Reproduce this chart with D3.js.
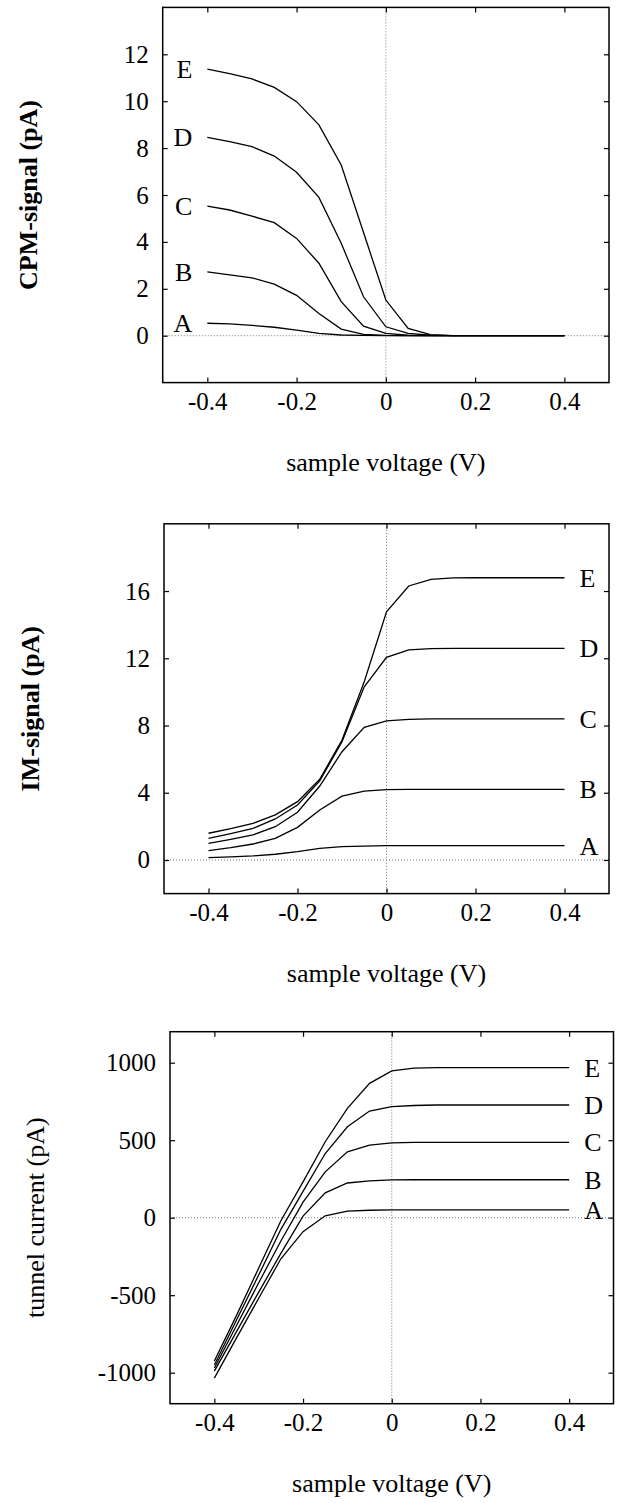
<!DOCTYPE html>
<html>
<head>
<meta charset="utf-8">
<script src="https://cdn.jsdelivr.net/npm/d3@7"></script>
<style>
	body { margin: 0; background: #fff; }
	svg { display: block; font-family: "Liberation Serif", "Times New Roman", serif; }
</style>
</head>
<body>
<script>
// sample voltage (V), same grid for every panel
const voltage = [-0.4, -0.35, -0.3, -0.25, -0.2, -0.15, -0.1, -0.05, 0, 0.05, 0.1, 0.15, 0.2, 0.25, 0.3, 0.35, 0.4];
const xTicks = [-0.4, -0.2, 0, 0.2, 0.4];
const curveNames = ["A", "B", "C", "D", "E"];

// CPM-signal (pA)
const cpmA = [0.53, 0.5, 0.44, 0.36, 0.24, 0.1, 0.03, 0.01, 0, 0, 0, 0, 0, 0, 0, 0, 0];
const cpmB = [2.72, 2.59, 2.47, 2.2, 1.72, 0.95, 0.28, 0.06, 0.01, 0, 0, 0, 0, 0, 0, 0, 0];
const cpmC = [5.53, 5.36, 5.1, 4.82, 4.15, 3.09, 1.45, 0.41, 0.1, 0.02, 0, 0, 0, 0, 0, 0, 0];
const cpmD = [8.46, 8.28, 8.06, 7.66, 6.97, 5.9, 3.94, 1.66, 0.38, 0.1, 0.02, 0, 0, 0, 0, 0, 0];
const cpmE = [11.37, 11.18, 10.95, 10.59, 9.98, 8.99, 7.28, 4.4, 1.52, 0.31, 0.05, 0, 0, 0, 0, 0, 0];
const cpmTicks = [0, 2, 4, 6, 8, 10, 12];

// IM-signal (pA)
const imA = [0.14, 0.18, 0.24, 0.34, 0.5, 0.69, 0.79, 0.83, 0.85, 0.86, 0.86, 0.86, 0.86, 0.86, 0.86, 0.86, 0.86];
const imB = [0.56, 0.73, 0.95, 1.29, 1.94, 2.97, 3.8, 4.1, 4.18, 4.2, 4.2, 4.2, 4.2, 4.2, 4.2, 4.2, 4.2];
const imC = [0.99, 1.23, 1.49, 1.98, 2.84, 4.4, 6.44, 7.89, 8.27, 8.37, 8.39, 8.39, 8.39, 8.39, 8.39, 8.39, 8.39];
const imD = [1.29, 1.57, 1.88, 2.44, 3.27, 4.7, 7.04, 10.3, 12.06, 12.5, 12.57, 12.59, 12.59, 12.59, 12.59, 12.59, 12.59];
const imE = [1.59, 1.87, 2.18, 2.68, 3.47, 4.8, 7.14, 10.6, 14.77, 16.3, 16.7, 16.78, 16.79, 16.79, 16.79, 16.79, 16.79];
const imTicks = [0, 4, 8, 12, 16];

// tunnel current (pA)
const tunA = [-1035, -775, -520, -265, -90, 12, 42, 48, 50, 50, 50, 50, 50, 50, 50, 50, 50];
const tunB = [-990, -735, -480, -230, 10, 160, 224, 238, 244, 245, 245, 245, 245, 245, 245, 245, 245];
const tunC = [-970, -695, -420, -150, 100, 296, 425, 468, 483, 486, 486, 486, 486, 486, 486, 486, 486];
const tunD = [-950, -660, -370, -75, 170, 414, 587, 688, 716, 724, 727, 727, 727, 727, 727, 727, 727];
const tunE = [-925, -630, -325, -20, 231, 490, 705, 867, 947, 965, 968, 968, 968, 968, 968, 968, 968];
const tunTicks = [-1000, -500, 0, 500, 1000];

const svg = d3.select("body").append("svg").attr("width", 619).attr("height", 1503);

const panels = [
	{ box: [162.7, 609, 7.4, 382.6], yDomain: [-2, 14], yTicks: cpmTicks, series: [cpmA, cpmB, cpmC, cpmD, cpmE],
		title: "CPM-signal (pA)", bold: true, titleX: 30, side: "left" },
	{ box: [164, 609, 523.8, 893.6], yDomain: [-2, 20], yTicks: imTicks, series: [imA, imB, imC, imD, imE],
		title: "IM-signal (pA)", bold: true, titleX: 32, side: "right" },
	{ box: [170, 613.5, 1031.7, 1403.7], yDomain: [-1200, 1200], yTicks: tunTicks, series: [tunA, tunB, tunC, tunD, tunE],
		title: "tunnel current (pA)", bold: false, titleX: 37, side: "right" }
];

const fmt = (d) => String(d);

panels.forEach((p) => {
	const [x0, x1, y0, y1] = p.box;
	const x = d3.scaleLinear().domain([-0.5, 0.5]).range([x0, x1]);
	const y = d3.scaleLinear().domain(p.yDomain).range([y1, y0]);
	const g = svg.append("g");

	// dotted zero lines
	g.append("line")
		.attr("x1", x0).attr("x2", x1).attr("y1", y(0)).attr("y2", y(0))
		.attr("stroke", "#777").attr("stroke-width", 1).attr("stroke-dasharray", "1,2");
	g.append("line")
		.attr("x1", x(0)).attr("x2", x(0)).attr("y1", y0).attr("y2", y1)
		.attr("stroke", "#777").attr("stroke-width", 1).attr("stroke-dasharray", "1,2");

	// axes, ticks pointing inwards
	const axes = [
		[d3.axisBottom(x).tickValues(xTicks).tickFormat(fmt).tickPadding(10), `translate(0,${y1})`],
		[d3.axisTop(x).tickValues(xTicks).tickFormat(""), `translate(0,${y0})`],
		[d3.axisLeft(y).tickValues(p.yTicks).tickFormat(fmt).tickPadding(14), `translate(${x0},0)`],
		[d3.axisRight(y).tickValues(p.yTicks).tickFormat(""), `translate(${x1},0)`]
	];
	axes.forEach(([ax, tr]) => {
		const a = g.append("g").attr("transform", tr)
			.call(ax.tickSizeInner(-5).tickSizeOuter(0))
			.attr("font-family", null)
			.attr("font-size", 25);
		a.select(".domain").remove();
		a.selectAll("line").attr("stroke", "#000").attr("stroke-width", 1.2);
		a.selectAll("text").attr("fill", "#000");
	});

	g.append("rect")
		.attr("x", x0).attr("y", y0).attr("width", x1 - x0).attr("height", y1 - y0)
		.attr("fill", "none").attr("stroke", "#000").attr("stroke-width", 1.5);

	const line = d3.line().x((d, i) => x(voltage[i])).y((d) => y(d));
	g.selectAll(".curve").data(p.series).enter().append("path")
		.attr("class", "curve")
		.attr("d", line)
		.attr("fill", "none").attr("stroke", "#000").attr("stroke-width", 1.3);

	// curve letters
	g.selectAll(".name").data(p.series).enter().append("text")
		.attr("class", "name")
		.attr("x", p.side == "left" ? x(voltage[0]) - 15 : x(voltage[voltage.length - 1]) + 15)
		.attr("y", (d) => y(p.side == "left" ? d[0] : d[d.length - 1]))
		.attr("dy", "0.35em")
		.attr("text-anchor", p.side == "left" ? "end" : "start")
		.attr("font-size", 26)
		.text((d, i) => curveNames[i]);

	g.append("text")
		.attr("x", (x0 + x1) / 2).attr("y", y1 + 88)
		.attr("text-anchor", "middle").attr("font-size", 26)
		.text("sample voltage (V)");

	g.append("text")
		.attr("transform", `translate(${p.titleX},${(y0 + y1) / 2}) rotate(-90)`)
		.attr("dy", "0.25em")
		.attr("text-anchor", "middle").attr("font-size", 26)
		.attr("font-weight", p.bold ? "bold" : "normal")
		.text(p.title);
});
</script>
</body>
</html>
